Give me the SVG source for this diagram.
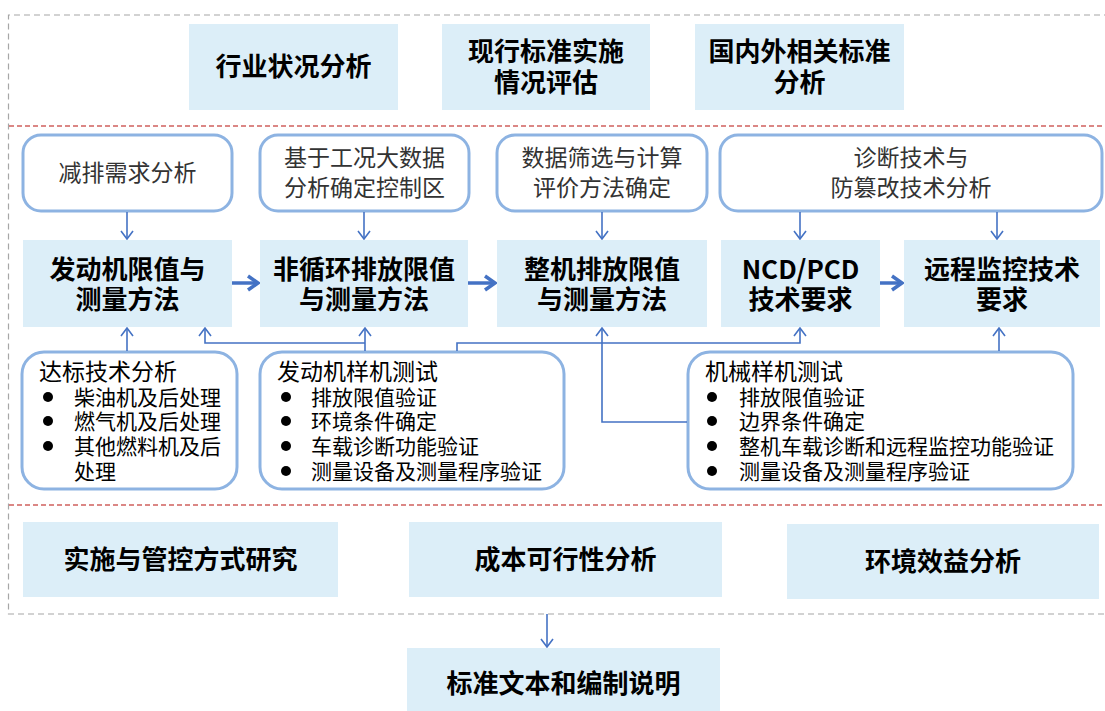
<svg xmlns="http://www.w3.org/2000/svg" width="1105" height="711" viewBox="0 0 1105 711">
<style>
.fill{fill:#DCEEF8;}
.rbox{fill:#FFFFFF;stroke:#8DB3E2;stroke-width:3;}
.bt{font-family:"Noto Sans CJK SC","Noto Sans",sans-serif;font-weight:700;font-size:26px;fill:#000;text-anchor:middle;}
.nt{font-family:"Noto Sans CJK SC","Noto Sans",sans-serif;font-size:23px;fill:#333;text-anchor:middle;}
.lt{font-family:"Noto Sans CJK SC","Noto Sans",sans-serif;font-size:23px;fill:#000;}
.it{font-family:"Noto Sans CJK SC","Noto Sans",sans-serif;font-size:21px;fill:#000;}
.thin{fill:none;stroke:#4472C4;stroke-width:1.6;marker-end:url(#ah);}
.thick{fill:none;stroke:#4472C4;stroke-width:3.5;marker-end:url(#ahb);}
</style>
<defs>
<marker id="ah" viewBox="0 0 10 14" refX="9" refY="7" markerWidth="10" markerHeight="14" markerUnits="userSpaceOnUse" orient="auto"><path d="M1,1 L9,7 L1,13" fill="none" stroke="#4472C4" stroke-width="1.6"/></marker>
<marker id="ahb" viewBox="0 0 14 18" refX="12" refY="9" markerWidth="14" markerHeight="18" markerUnits="userSpaceOnUse" orient="auto"><path d="M2,2 L12,9 L2,16" fill="none" stroke="#4472C4" stroke-width="3.5"/></marker>
</defs>
<rect width="1105" height="711" fill="#FFFFFF"/>
<!-- frames -->
<g id="frames">
<path d="M1110,15 H8.5 V614 H1110" fill="none" stroke="#A6A6A6" stroke-width="1.2" stroke-dasharray="6,4"/>
<line x1="9" y1="126" x2="1105" y2="126" stroke="#D0605E" stroke-width="1.3" stroke-dasharray="5,3"/>
<line x1="9" y1="505" x2="1105" y2="505" stroke="#D0605E" stroke-width="1.3" stroke-dasharray="5,3"/>
</g>
<!-- top boxes -->
<g id="n-hangye"><rect class="fill" x="189" y="24" width="209" height="86"/><text class="bt" x="293.5" y="76">行业状况分析</text></g>
<g id="n-xianxing"><rect class="fill" x="442" y="24" width="208" height="86"/><text class="bt" x="546" y="61">现行标准实施</text><text class="bt" x="546" y="92">情况评估</text></g>
<g id="n-guoneiwai"><rect class="fill" x="695" y="24" width="209" height="86"/><text class="bt" x="799.5" y="61">国内外相关标准</text><text class="bt" x="799.5" y="92">分析</text></g>
<!-- top rounded boxes -->
<g id="n-jianpai"><rect class="rbox" x="23" y="135" width="209" height="76" rx="18"/><text class="nt" x="127.5" y="181">减排需求分析</text></g>
<g id="n-jiyu"><rect class="rbox" x="260" y="135" width="209" height="76" rx="18"/><text class="nt" x="364.5" y="166">基于工况大数据</text><text class="nt" x="364.5" y="196">分析确定控制区</text></g>
<g id="n-shuju"><rect class="rbox" x="497" y="135" width="210" height="76" rx="18"/><text class="nt" x="602" y="166">数据筛选与计算</text><text class="nt" x="602" y="196">评价方法确定</text></g>
<g id="n-zhenduan"><rect class="rbox" x="720" y="135" width="382" height="76" rx="18"/><text class="nt" x="911" y="166">诊断技术与</text><text class="nt" x="911" y="196">防篡改技术分析</text></g>
<!-- main boxes -->
<g id="n-fadongji"><rect class="fill" x="23" y="240" width="209" height="87"/><text class="bt" x="127.5" y="279">发动机限值与</text><text class="bt" x="127.5" y="309">测量方法</text></g>
<g id="n-feixunhuan"><rect class="fill" x="260" y="240" width="208" height="87"/><text class="bt" x="364" y="279">非循环排放限值</text><text class="bt" x="364" y="309">与测量方法</text></g>
<g id="n-zhengji"><rect class="fill" x="497" y="240" width="210" height="87"/><text class="bt" x="602" y="279">整机排放限值</text><text class="bt" x="602" y="309">与测量方法</text></g>
<g id="n-ncd"><rect class="fill" x="721" y="240" width="159" height="87"/><text class="bt" x="800.5" y="279">NCD/PCD</text><text class="bt" x="800.5" y="309">技术要求</text></g>
<g id="n-yuancheng"><rect class="fill" x="904" y="240" width="196" height="87"/><text class="bt" x="1002" y="279">远程监控技术</text><text class="bt" x="1002" y="309">要求</text></g>
<!-- bottom rounded boxes -->
<g id="n-dabiao"><rect class="rbox" x="22" y="352" width="215" height="137" rx="22"/>
<text class="lt" x="39" y="380">达标技术分析</text>
<circle cx="48" cy="397" r="5"/><text class="it" x="74" y="405">柴油机及后处理</text>
<circle cx="48" cy="421" r="5"/><text class="it" x="74" y="429">燃气机及后处理</text>
<circle cx="48" cy="446" r="5"/><text class="it" x="74" y="454">其他燃料机及后</text>
<text class="it" x="74" y="479">处理</text></g>
<g id="n-fadongjiyangji"><rect class="rbox" x="260" y="352" width="304" height="137" rx="22"/>
<text class="lt" x="277" y="380">发动机样机测试</text>
<circle cx="286" cy="397" r="5"/><text class="it" x="311" y="405">排放限值验证</text>
<circle cx="286" cy="421" r="5"/><text class="it" x="311" y="429">环境条件确定</text>
<circle cx="286" cy="446" r="5"/><text class="it" x="311" y="454">车载诊断功能验证</text>
<circle cx="286" cy="471" r="5"/><text class="it" x="311" y="479">测量设备及测量程序验证</text></g>
<g id="n-jixieyangji"><rect class="rbox" x="688" y="352" width="385" height="137" rx="22"/>
<text class="lt" x="705" y="380">机械样机测试</text>
<circle cx="712" cy="397" r="5"/><text class="it" x="739" y="405">排放限值验证</text>
<circle cx="712" cy="421" r="5"/><text class="it" x="739" y="429">边界条件确定</text>
<circle cx="712" cy="446" r="5"/><text class="it" x="739" y="454">整机车载诊断和远程监控功能验证</text>
<circle cx="712" cy="471" r="5"/><text class="it" x="739" y="479">测量设备及测量程序验证</text></g>
<!-- bottom boxes -->
<g id="n-shishi"><rect class="fill" x="23" y="522" width="315" height="75"/><text class="bt" x="180.5" y="569">实施与管控方式研究</text></g>
<g id="n-chengben"><rect class="fill" x="409" y="522" width="313" height="75"/><text class="bt" x="565.5" y="569">成本可行性分析</text></g>
<g id="n-huanjing"><rect class="fill" x="787" y="524" width="312" height="75"/><text class="bt" x="943" y="571">环境效益分析</text></g>
<g id="n-biaozhun"><rect class="fill" x="407" y="648" width="313" height="63"/><text class="bt" x="563.5" y="693">标准文本和编制说明</text></g>
<!-- connectors -->
<g id="connectors">
<path class="thin" d="M127,212 V239"/>
<path class="thin" d="M364,212 V239"/>
<path class="thin" d="M602,212 V239"/>
<path class="thin" d="M800,212 V239"/>
<path class="thin" d="M997,212 V239"/>
<path class="thick" d="M232,283 H258"/>
<path class="thick" d="M468,283 H495"/>
<path class="thick" d="M880,283 H902"/>
<path class="thin" d="M127,351 V328"/>
<path class="thin" d="M365,351 V328"/>
<path class="thin" d="M365,343 H205 V328"/>
<path class="thin" d="M457,351 V343 H800 V328"/>
<path class="thin" d="M687,422 H602 V328"/>
<path class="thin" d="M999,351 V328"/>
<path class="thin" d="M547,614 V647"/>
</g>
</svg>
